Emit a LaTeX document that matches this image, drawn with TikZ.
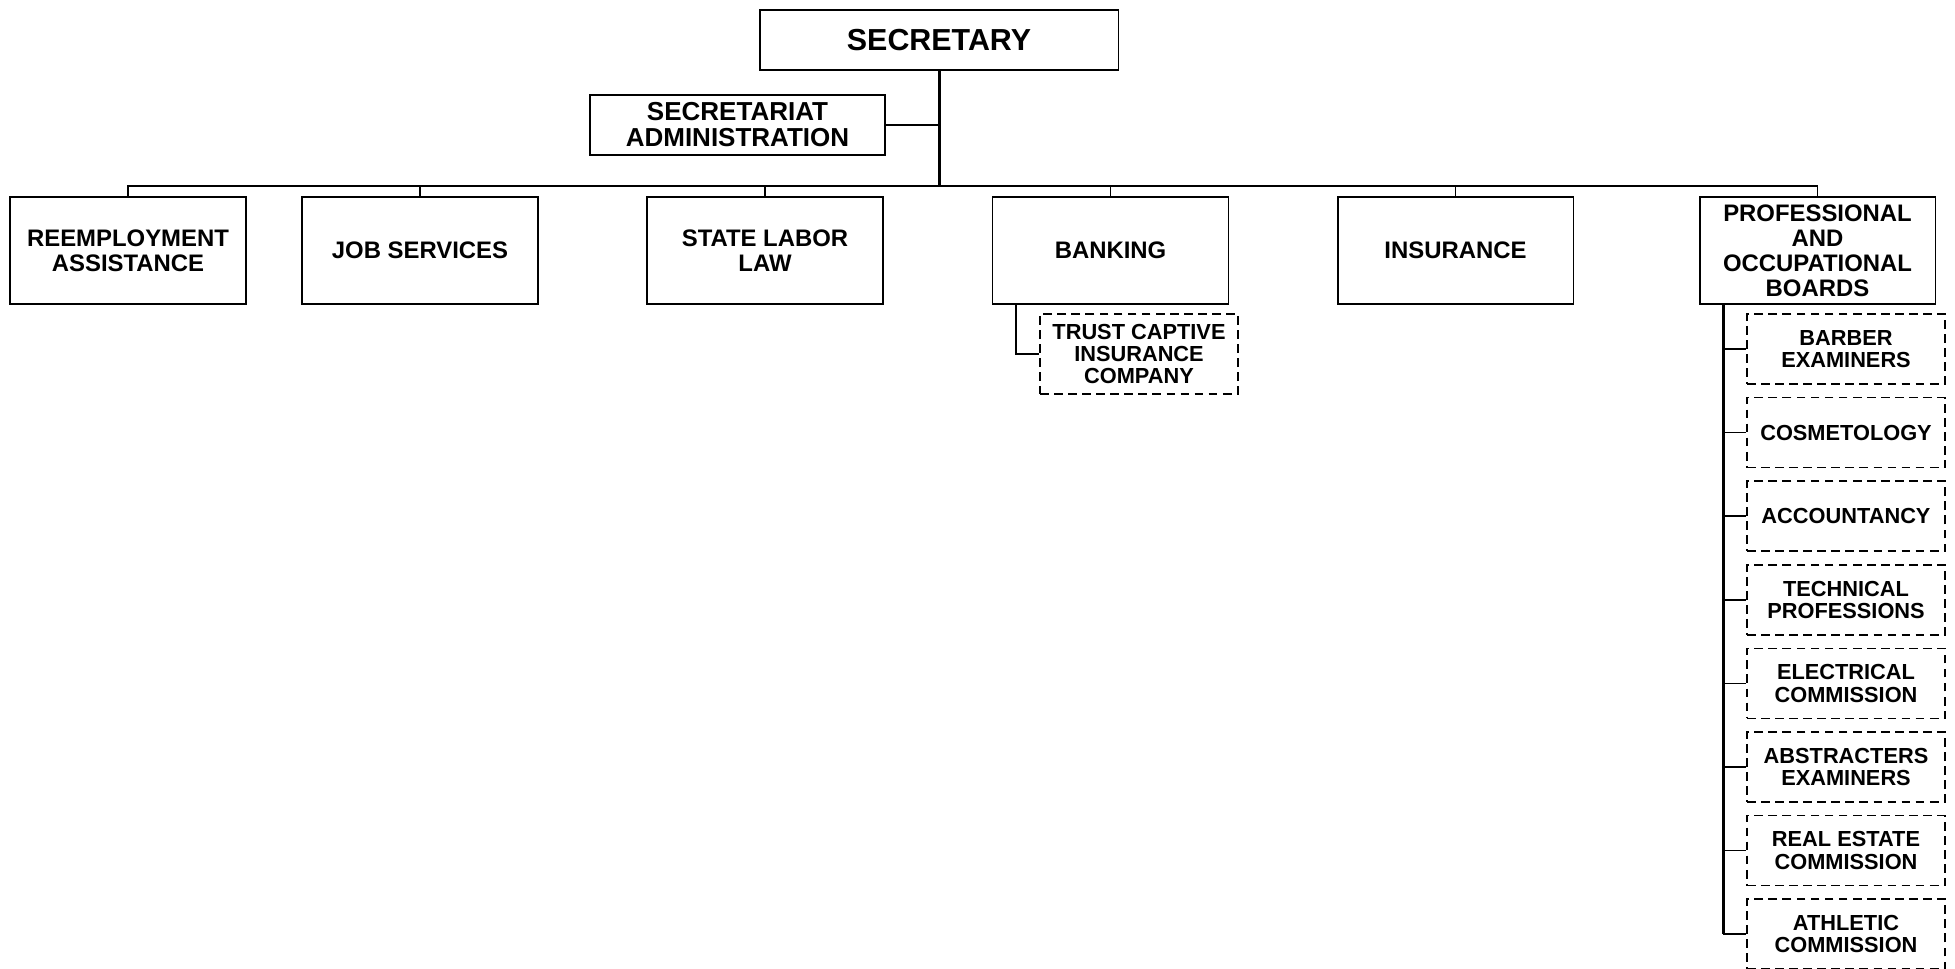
\documentclass[tikz,border=0pt]{standalone}
\usepackage{fontspec}
\setmainfont{Liberation Sans}
\usetikzlibrary{positioning}
\tikzset{
  chart/.style={x=0.02cm,y=-0.02cm},
  office/.style={draw,line width=1.1pt,fill=white,align=center,inner sep=2pt,
    minimum width=4.72cm,minimum height=2.14cm,font=\fontsize{13.6}{14.2}\selectfont\bfseries},
  board/.style={draw,line width=1pt,dash pattern=on 5pt off 3pt,align=center,inner sep=2pt,
    minimum width=3.96cm,minimum height=1.4cm,font=\fontsize{12.4}{12.8}\selectfont\bfseries},
  trunk/.style={line width=1.7pt},
  link/.style={line width=1.1pt},
  tick/.style={line width=0.9pt},
}

\begin{document}
\begin{tikzpicture}[chart]
  \useasboundingbox (0,0) rectangle (1955,969);
  \clip (0,0) rectangle (1955,969);

  \node[office,minimum width=7.18cm,minimum height=1.2cm,
        font=\fontsize{17.3}{19}\selectfont\bfseries] (sec) at (939,40) {SECRETARY};
  \node[office,minimum width=5.9cm,minimum height=1.2cm,
        font=\fontsize{14.8}{14.8}\selectfont\bfseries] (admin) at (737.5,125)
    {SECRETARIAT\\ADMINISTRATION};
  \coordinate (bar) at (939,186);

  % divisions
  \node[office] (reemp) at (128,250.5) {REEMPLOYMENT\\ASSISTANCE};
  \node[office] (jobs) at (420,250.5) {JOB SERVICES};
  \node[office] (labor) at (765,250.5) {STATE LABOR\\LAW};
  \node[office] (bank) at (1110.5,250.5) {BANKING};
  \node[office] (ins) at (1455.5,250.5) {INSURANCE};
  \node[office] (prof) at (1817.5,250.5) {PROFESSIONAL\\AND\\OCCUPATIONAL\\BOARDS};

  \draw[trunk] (sec.south) -- (bar);
  \draw[link] (admin.east) -- (admin.east -| bar);
  \draw[link] (reemp.north) |- (bar) -| (prof.north);
  \foreach \n in {jobs,labor,bank,ins}
    \draw[link] (\n.north) -- (\n.north |- bar);

  \node[board,minimum height=1.6cm] (trust) at (1139,354) {TRUST CAPTIVE\\INSURANCE\\COMPANY};
  \draw[link] ([xshift=0.48cm]bank.south west) |- (trust.west);

  % boards under the professional division
  \coordinate (spine) at (1723,304);
  \foreach \name/\txt [count=\i from 0] in {barber/{BARBER\\EXAMINERS},
      cosmet/{COSMETOLOGY},account/{ACCOUNTANCY},technical/{TECHNICAL\\PROFESSIONS},
      electrical/{ELECTRICAL\\COMMISSION},abstract/{ABSTRACTERS\\EXAMINERS},
      realestate/{REAL ESTATE\\COMMISSION},athletic/{ATHLETIC\\COMMISSION}}{
    \node[board] (\name) at (1846,349+83.6*\i) {\txt};
    \draw[tick] (\name.west) -- (\name.west -| spine);
  }
  \draw[trunk] (spine) -- (spine |- athletic.west);
\end{tikzpicture}
\end{document}
